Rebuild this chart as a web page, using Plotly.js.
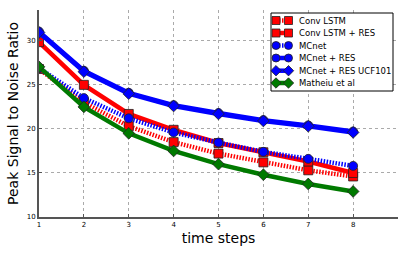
<!DOCTYPE html>
<html><head><meta charset="utf-8">
<script src="https://cdn.plot.ly/plotly-3.0.1.min.js"></script>
<style>html,body{margin:0;padding:0;background:#fff}#chart{width:407px;height:255px}</style>
</head><body><div id="chart"></div>
<script>
const steps = [1,2,3,4,5,6,7,8];
const convLSTM = [26.8, 23.0, 20.3, 18.5, 17.2, 16.2, 15.3, 14.6];
const convLSTMRes = [29.85, 25.0, 21.7, 19.9, 18.4, 17.35, 16.3, 15.0];
const mcnet = [26.9, 23.5, 21.2, 19.6, 18.45, 17.4, 16.6, 15.8];
const mcnetRes = [31.05, 26.6, 24.1, 22.7, 21.8, 21.0, 20.4, 19.7];
const mcnetResUCF = [30.95, 26.5, 24.0, 22.6, 21.7, 20.9, 20.3, 19.6];
const matheiu = [27.05, 22.5, 19.5, 17.5, 16.0, 14.8, 13.75, 12.9];
const names = ['Conv LSTM','Conv LSTM + RES','MCnet','MCnet + RES','MCnet + RES UCF101','Matheiu et al'];
const colors = ['#ff0000','#ff0000','#0000ff','#0000ff','#0000ff','#007a00'];
const dashes = ['1.5px,1.5px','solid','1.5px,1.5px','solid','solid','solid'];
const symbols = ['square','square','circle','circle','diamond','diamond'];
const series = [convLSTM, convLSTMRes, mcnet, mcnetRes, mcnetResUCF, matheiu];

const xRange = [1, 9], yRange = [10, 33.5];
const M = {l:39, r:9, t:10, b:38}, W = 407, H = 255;
const pw = W - M.l - M.r, ph = H - M.t - M.b;
const px2x = p => xRange[0] + (p - M.l) / pw * (xRange[1] - xRange[0]);
const py2y = p => yRange[0] + (H - M.b - p) / ph * (yRange[1] - yRange[0]);

const data = [];
series.forEach((y, i) => {
  data.push({x: steps, y: y, name: names[i], type:'scatter', mode:'lines+markers', showlegend:false,
    line:{color:colors[i], width:4.5, dash:dashes[i]},
    marker:{color:colors[i], symbol:symbols[i], size:9, line:{color:'#222', width:0.8}}});
});

// Custom compact legend
const legX0 = 271, legX1 = 393, legY0 = 13, legY1 = 91;
const rowY = [20.5, 33, 45.5, 58, 70.7, 83];
const annotations = [];
names.forEach((n, i) => {
  data.push({x:[px2x(276), px2x(288.5)], y:[py2y(rowY[i]), py2y(rowY[i])], type:'scatter',
    mode:'lines+markers', showlegend:false, cliponaxis:false, hoverinfo:'skip',
    line:{color:colors[i], width:4.5, dash:dashes[i]},
    marker:{color:colors[i], symbol:symbols[i], size:8, line:{color:'#222', width:0.8}}});
  annotations.push({xref:'x', yref:'y', x:px2x(297), y:py2y(rowY[i]), text:n, showarrow:false,
    xanchor:'left', yanchor:'middle', font:{size:8.5, family:'DejaVu Sans', color:'#000'}});
});

const layout = {
  width:W, height:H, margin:M,
  paper_bgcolor:'#fff', plot_bgcolor:'#fff',
  font:{family:'DejaVu Sans', color:'#000'},
  showlegend:false,
  xaxis:{range:xRange, tickvals:[1,2,3,4,5,6,7,8], ticktext:['1','2','3','4','5','6','7','8'],
    showgrid:true, gridcolor:'#aaa', griddash:'dot', gridwidth:1,
    showline:true, linecolor:'#555', linewidth:2, zeroline:false,
    ticks:'inside', ticklen:3, tickcolor:'#555', tickfont:{size:7},
    title:{text:'time steps', font:{size:14}, standoff:5}},
  yaxis:{range:yRange, tickvals:[10,15,20,25,30],
    showgrid:true, gridcolor:'#aaa', griddash:'dot', gridwidth:1,
    showline:true, linecolor:'#555', linewidth:2, zeroline:false,
    ticks:'inside', ticklen:3, tickcolor:'#555', tickfont:{size:7},
    title:{text:'Peak Signal to Noise Ratio', font:{size:14}, standoff:5}},
  shapes:[{type:'rect', xref:'x', yref:'y', x0:px2x(legX0), x1:px2x(legX1), y0:py2y(legY0), y1:py2y(legY1),
    fillcolor:'#fff', line:{color:'#000', width:1}, layer:'between'}],
  annotations: annotations
};
Plotly.newPlot('chart', data, layout, {displayModeBar:false, staticPlot:true});
</script></body></html>
